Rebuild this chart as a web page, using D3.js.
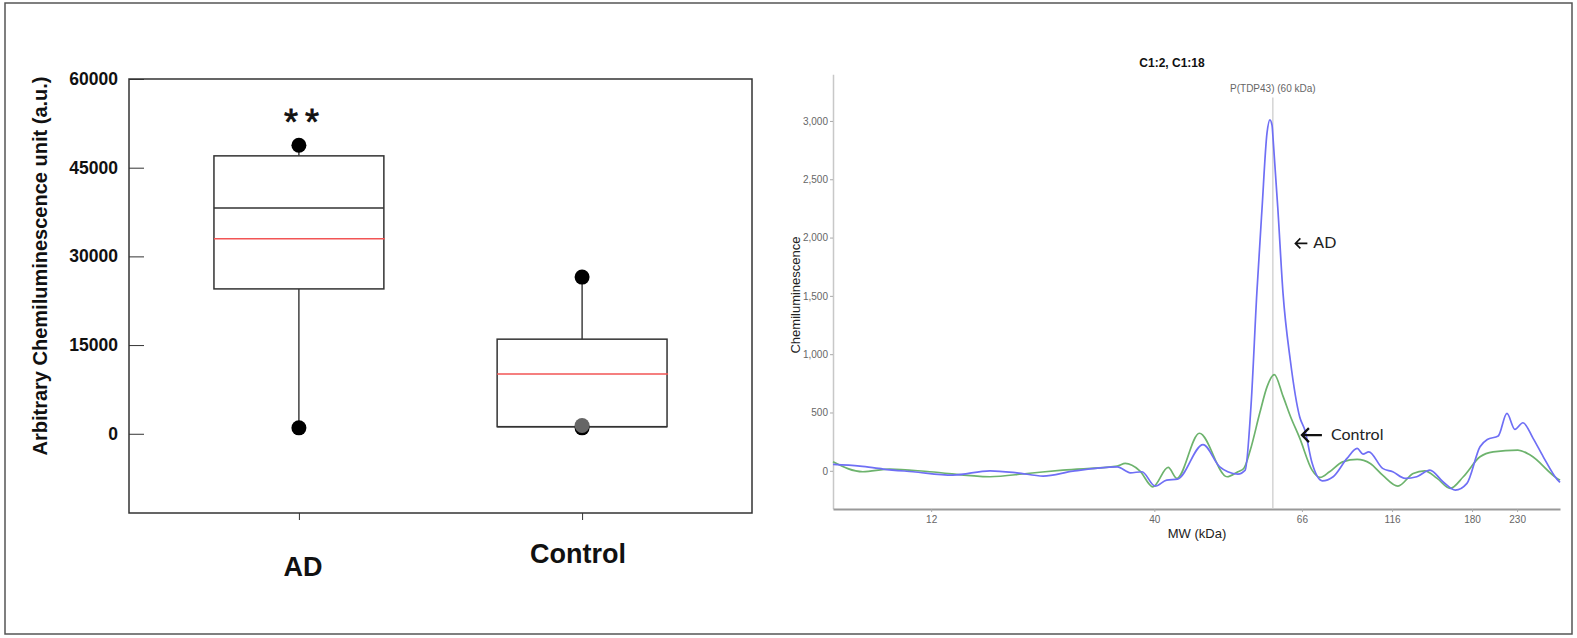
<!DOCTYPE html>
<html>
<head>
<meta charset="utf-8">
<title>TDP-43 chemiluminescence</title>
<script src="https://cdn.jsdelivr.net/npm/d3@7"></script>
<style>
  html, body { margin: 0; padding: 0; background: #fff; }
  svg { display: block; font-family: "Liberation Sans", Arial, sans-serif; }
</style>
</head>
<body>
<svg id="chart" width="1577" height="638"></svg>
<script>
// ---- left panel: box plot ----
var groups = ["AD", "Control"];
var q1 = [24500, 1200];
var median = [38200, 1200];
var q3 = [47000, 16000];
var mean = [33000, 10100];
var whiskerMin = [1000, 1200];
var whiskerMax = [48800, 26500];
var pointGroup = ["AD", "AD", "Control", "Control", "Control"];
var pointValue = [48800, 1000, 26500, 1000, 1400];
var leftTicks = [0, 15000, 30000, 45000, 60000];

// ---- right panel: electropherogram ----
var adMobility = [0, 3.7, 6.9, 11.0, 16.5, 21.6, 25.3, 28.9, 33.0, 39.1, 40.9, 42.5, 44.3, 45.9, 47.4,
  50.9, 53.2, 54.3, 55.7, 56.7, 57.5, 58.3, 59.0, 59.7, 60.1, 60.4, 60.5, 61.2, 61.9, 62.9, 64.2,
  64.9, 65.9, 67.3, 68.8, 70.7, 72.1, 72.9, 73.7, 75.6, 77.0, 78.7, 80.3, 82.1, 83.9, 85.6, 87.2,
  89.0, 90.0, 91.5, 92.7, 93.8, 94.9, 96.3, 97.7, 99.6, 100];
var adSignal = [55, 40, 15, -8, -37, 0, -17, -45, -3, 34, -17, -8, -131, -80, -72,
  224, 34, -8, -28, 6, 560, 1524, 2236, 2897, 3010, 2960, 2880, 2236, 1524, 950, 461,
  349, 66, -86, -51, 106, 192, 143, 163, 21, -8, -65, -51, 6, -94, -166, -108,
  206, 269, 298, 492, 355, 412, 278, 120, -74, -100];
var controlMobility = [0, 4.1, 7.8, 13.3, 21.6, 26.7, 31.6, 39.1, 40.2, 42.2, 44.0, 46.1, 47.3,
  50.4, 54.2, 55.7, 56.5, 57.4, 58.7, 59.7, 60.7, 61.9, 62.9, 64.2, 65.9, 67.0, 68.3, 70.1, 72.1,
  73.9, 75.6, 77.7, 79.8, 81.4, 83.1, 84.9, 86.7, 89.0, 90.8, 94.2, 95.9, 99.6, 100];
var controlSignal = [77, -8, 15, -8, -51, -23, 6, 40, 63, 0, -137, 29, -65,
  322, -51, -8, 20, 178, 495, 720, 825, 640, 470, 280, 6, -57, -8, 77, 98,
  63, -37, -131, -23, 0, -65, -151, -51, 120, 163, 178, 135, -65, -80];
var mwTickPos = [13.5, 44.2, 64.5, 76.9, 87.9, 94.1];
var mwTickLabels = ["12", "40", "66", "116", "180", "230"];
var rightTicks = [0, 500, 1000, 1500, 2000, 2500, 3000];
var markerPos = 60.5;
var markerLabel = "P(TDP43)  (60 kDa)";
var noteText = ["AD", "Control"];
var noteMobility = [63.6, 64.5];
var noteSignal = [1950, 306];

var svg = d3.select("#chart");

// outer border
svg.append("rect")
  .attr("x", 5).attr("y", 3).attr("width", 1567).attr("height", 631)
  .attr("fill", "none").attr("stroke", "#555").attr("stroke-width", 1.5);

// ---------- box plot ----------
var yL = d3.scaleLinear().domain([-13400, 60000]).range([513, 79]);
var xL = d3.scalePoint().domain(groups).range([129, 752]).padding(0.6);
var boxW = xL.step() * 0.6;

var left = svg.append("g");

left.append("rect")
  .attr("x", 129).attr("y", 79).attr("width", 623).attr("height", 434)
  .attr("fill", "none").attr("stroke", "#333").attr("stroke-width", 1.5);

var yAxisL = left.append("g")
  .attr("transform", "translate(129,0)")
  .call(d3.axisLeft(yL).tickValues(leftTicks).tickSize(-15).tickSizeOuter(0)
    .tickPadding(11).tickFormat(d3.format("d")));
yAxisL.select(".domain").remove();
yAxisL.selectAll("line").attr("stroke", "#333");
yAxisL.selectAll("text")
  .attr("font-family", "'Liberation Sans', Arial, sans-serif")
  .attr("font-size", 17.5).attr("font-weight", "bold").attr("fill", "#111");

var xAxisL = left.append("g")
  .attr("transform", "translate(0,513)")
  .call(d3.axisBottom(xL).tickSize(7).tickSizeOuter(0).tickFormat(""));
xAxisL.select(".domain").remove();
xAxisL.selectAll("line").attr("stroke", "#333");

var labelShift = { AD: [4, 63], Control: [-4, 50] };
left.selectAll("text.cat").data(groups).enter().append("text")
  .attr("class", "cat")
  .attr("x", function (d) { return xL(d) + labelShift[d][0]; })
  .attr("y", function (d) { return 513 + labelShift[d][1]; })
  .attr("text-anchor", "middle")
  .attr("font-size", 27).attr("font-weight", "bold").attr("fill", "#111")
  .text(function (d) { return d; });

left.append("text")
  .attr("transform", "translate(47,266) rotate(-90)")
  .attr("text-anchor", "middle")
  .attr("font-size", 20).attr("font-weight", "bold").attr("fill", "#111")
  .text("Arbitrary Chemiluminescence unit (a.u.)");

groups.forEach(function (g, i) {
  var cx = xL(g);
  left.append("line")
    .attr("x1", cx).attr("x2", cx).attr("y1", yL(q3[i])).attr("y2", yL(whiskerMax[i]))
    .attr("stroke", "#111").attr("stroke-width", 1.2);
  left.append("line")
    .attr("x1", cx).attr("x2", cx).attr("y1", yL(q1[i])).attr("y2", yL(whiskerMin[i]))
    .attr("stroke", "#111").attr("stroke-width", 1.2);
  left.append("rect")
    .attr("x", cx - boxW / 2).attr("width", boxW)
    .attr("y", yL(q3[i])).attr("height", yL(q1[i]) - yL(q3[i]))
    .attr("fill", "none").attr("stroke", "#333").attr("stroke-width", 1.5);
  left.append("line")
    .attr("x1", cx - boxW / 2).attr("x2", cx + boxW / 2)
    .attr("y1", yL(median[i])).attr("y2", yL(median[i]))
    .attr("stroke", "#333").attr("stroke-width", 1.5);
  left.append("line")
    .attr("x1", cx - boxW / 2).attr("x2", cx + boxW / 2 + 1)
    .attr("y1", yL(mean[i])).attr("y2", yL(mean[i]))
    .attr("stroke", "#f25555").attr("stroke-width", 1.5);
});

pointValue.forEach(function (v, i) {
  left.append("circle")
    .attr("cx", xL(pointGroup[i])).attr("cy", yL(v)).attr("r", 7.5)
    .attr("fill", i === 4 ? "#666" : "#000");
});

left.append("text")
  .attr("x", xL("AD") + 6).attr("y", yL(whiskerMax[0]) - 10)
  .attr("text-anchor", "middle")
  .attr("font-size", 36).attr("fill", "#111")
  .attr("stroke", "#111").attr("stroke-width", 0.8)
  .attr("letter-spacing", 7)
  .text("**");

// ---------- electropherogram ----------
var xR = d3.scaleLinear().domain([0, 100]).range([833, 1560]);
var yR = d3.scaleLinear().domain([-325, 3400]).range([508.7, 74.3]);
var narrow = "'Liberation Sans Narrow', 'Arial Narrow', 'Liberation Sans', Arial, sans-serif";

var right = svg.append("g");

var yAxisR = right.append("g")
  .attr("transform", "translate(833,0)")
  .call(d3.axisLeft(yR).tickValues(rightTicks).tickSize(3).tickSizeOuter(0)
    .tickPadding(2).tickFormat(d3.format(",")));
yAxisR.select(".domain").attr("stroke", "#c8c8c8").attr("stroke-width", 1.5);
yAxisR.selectAll("line").attr("stroke", "#aaa");
yAxisR.selectAll("text").attr("font-family", narrow).attr("font-size", 10).attr("fill", "#666");

var xAxisR = right.append("g")
  .attr("transform", "translate(0,509)")
  .call(d3.axisBottom(xR).tickValues(mwTickPos).tickSize(3).tickSizeOuter(0)
    .tickPadding(4).tickFormat(function (d, i) { return mwTickLabels[i]; }));
xAxisR.select(".domain").attr("stroke", "#999").attr("stroke-width", 2);
xAxisR.selectAll("line").attr("stroke", "#aaa");
xAxisR.selectAll("text").attr("font-family", narrow).attr("font-size", 10).attr("fill", "#666");

right.append("text")
  .attr("x", 1197).attr("y", 538).attr("text-anchor", "middle")
  .attr("font-size", 13).attr("fill", "#222")
  .text("MW (kDa)");

right.append("text")
  .attr("transform", "translate(800,295) rotate(-90)")
  .attr("text-anchor", "middle")
  .attr("font-size", 13).attr("fill", "#222")
  .text("Chemiluminescence");

right.append("text")
  .attr("x", 1172).attr("y", 67).attr("text-anchor", "middle")
  .attr("font-family", narrow).attr("font-size", 12).attr("font-weight", "bold").attr("fill", "#111")
  .text("C1:2, C1:18");

right.append("line")
  .attr("x1", xR(markerPos)).attr("x2", xR(markerPos))
  .attr("y1", yR(3200)).attr("y2", 508)
  .attr("stroke", "#d4d4d4").attr("stroke-width", 1.5);
right.append("text")
  .attr("x", xR(markerPos)).attr("y", yR(3200) - 6).attr("text-anchor", "middle")
  .attr("font-family", narrow).attr("font-size", 10).attr("fill", "#666")
  .text(markerLabel);

var line = d3.line()
  .x(function (d) { return xR(d[0]); })
  .y(function (d) { return yR(d[1]); })
  .curve(d3.curveMonotoneX);

right.append("path")
  .datum(d3.zip(controlMobility, controlSignal))
  .attr("d", line).attr("fill", "none")
  .attr("stroke", "#6db36d").attr("stroke-width", 1.7);
right.append("path")
  .datum(d3.zip(adMobility, adSignal))
  .attr("d", line).attr("fill", "none")
  .attr("stroke", "#6f6ff5").attr("stroke-width", 1.7);

// arrow annotations
noteText.forEach(function (t, i) {
  var ax = xR(noteMobility[i]), ay = yR(noteSignal[i]);
  var len = i === 0 ? 12 : 20, head = i === 0 ? 5 : 7, sw = i === 0 ? 1.6 : 2.2;
  right.append("path")
    .attr("d", "M" + (ax + len) + "," + ay + "H" + ax +
      "M" + (ax + head) + "," + (ay - head) + "L" + ax + "," + ay + "L" + (ax + head) + "," + (ay + head))
    .attr("fill", "none").attr("stroke", "#111").attr("stroke-width", sw);
  right.append("text")
    .attr("x", ax + len + (i === 0 ? 6 : 9)).attr("y", ay + 5)
    .attr("font-family", "Lato, 'Open Sans', sans-serif")
    .attr("font-size", 16).attr("fill", "#222")
    .text(t);
});
</script>
</body>
</html>
